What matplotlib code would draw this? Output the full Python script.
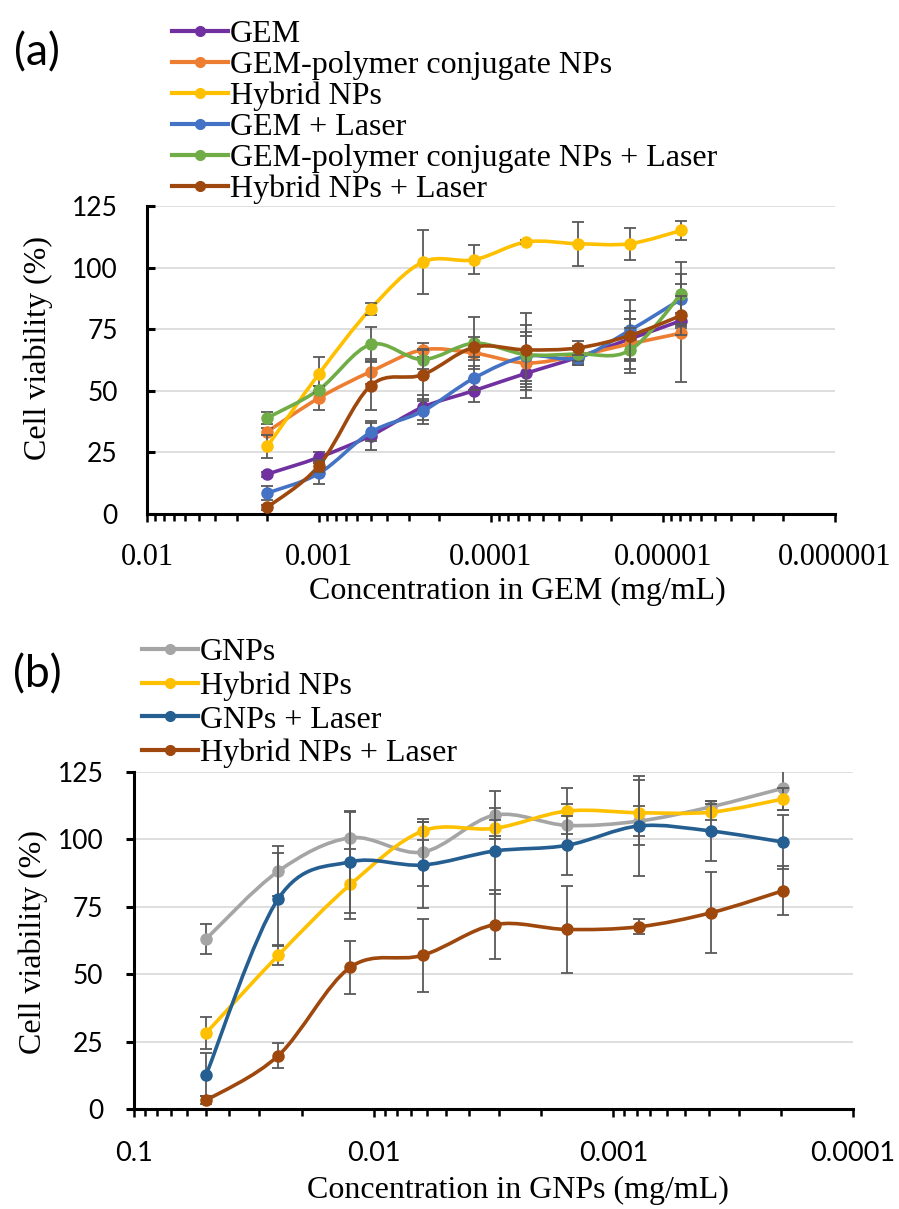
import numpy as np
import matplotlib
matplotlib.use('Agg')
import matplotlib.pyplot as plt
from matplotlib.path import Path
from matplotlib.patches import PathPatch
from matplotlib.lines import Line2D

# ---- data: panel (a), concentration in GEM (mg/mL)
conc_gem = [0.002, 0.001, 0.0005, 0.00025, 0.000125, 0.0000625, 0.00003125, 0.000015625, 0.0000078125]

gem = [16.2, 23.0, 31.8, 43.3, 50.1, 57.1, 63.6, 71.0, 78.5]
gem_err = [1.0, 2.0, 6.0, 5.0, 4.7, 10.0, 3.0, 8.0, 3.0]
gem_np = [33.4, 47.1, 57.8, 66.6, 65.3, 61.3, 64.3, 69.0, 73.4]
gem_np_err = [1.5, 4.9, 5.0, 3.0, 3.0, 11.0, 3.0, 10.0, 20.0]
hybrid = [27.4, 56.9, 83.3, 102.2, 103.2, 110.4, 109.7, 109.7, 115.1]
hybrid_err = [4.7, 6.8, 2.5, 13.0, 6.0, 1.0, 9.0, 6.5, 4.0]
gem_laser = [8.5, 16.5, 33.2, 41.7, 55.2, 64.0, 63.4, 74.5, 87.3]
gem_laser_err = [3.0, 4.3, 3.6, 5.0, 5.0, 10.0, 3.0, 12.5, 10.0]
gem_np_laser = [39.0, 50.5, 68.8, 62.7, 69.3, 64.7, 65.0, 66.4, 89.4]
gem_np_laser_err = [2.3, 1.5, 7.0, 4.0, 10.5, 12.0, 3.0, 9.0, 13.0]
hybrid_laser = [2.7, 19.6, 52.1, 56.5, 67.7, 66.6, 67.4, 72.4, 80.6]
hybrid_laser_err = [1.0, 2.5, 10.0, 10.5, 4.0, 15.0, 3.0, 10.0, 8.0]

# ---- data: panel (b), concentration in GNPs (mg/mL)
conc_gnp = [0.05, 0.025, 0.0125, 0.00625, 0.003125, 0.0015625, 0.00078125, 0.000390625, 0.0001953125]

gnps = [63.1, 88.2, 100.6, 95.3, 109.0, 105.2, 106.8, 112.1, 119.0]
gnps_err = [5.6, 9.3, 9.5, 12.4, 8.8, 8.0, 5.5, 2.0, 8.0]
hybrid_b = [28.2, 57.0, 83.3, 103.1, 104.1, 110.5, 109.9, 110.1, 115.0]
hybrid_b_err = [5.8, 3.5, 13.0, 3.5, 3.0, 8.4, 12.0, 3.0, 4.0]
gnps_laser = [12.7, 78.0, 91.7, 90.5, 95.7, 97.8, 105.0, 103.1, 99.0]
gnps_laser_err = [8.0, 17.0, 19.0, 16.0, 16.0, 11.0, 18.5, 11.0, 10.0]
hybrid_laser_b = [3.2, 19.8, 52.6, 57.0, 68.4, 66.6, 67.6, 72.8, 81.0]
hybrid_laser_b_err = [1.5, 4.5, 9.8, 13.6, 12.7, 16.0, 2.7, 15.0, 9.0]

series_a = [
    ('GEM', gem, gem_err, '#7030A0'),
    ('GEM-polymer conjugate NPs', gem_np, gem_np_err, '#ED7D31'),
    ('Hybrid NPs', hybrid, hybrid_err, '#FFC000'),
    ('GEM + Laser', gem_laser, gem_laser_err, '#4472C4'),
    ('GEM-polymer conjugate NPs + Laser', gem_np_laser, gem_np_laser_err, '#70AD47'),
    ('Hybrid NPs + Laser', hybrid_laser, hybrid_laser_err, '#9E480E'),
]
series_b = [
    ('GNPs', gnps, gnps_err, '#A5A5A5'),
    ('Hybrid NPs', hybrid_b, hybrid_b_err, '#FFC000'),
    ('GNPs + Laser', gnps_laser, gnps_laser_err, '#255E91'),
    ('Hybrid NPs + Laser', hybrid_laser_b, hybrid_laser_b_err, '#9E480E'),
]

SERIF = 'Liberation Serif'
SANS = 'Lato'
TXT = 23


def smooth_path(xs, ys):
    # excel-like smoothed line: catmull-rom as cubic bezier in (log x, y)
    u = np.log10(np.array(xs, dtype=float))
    v = np.array(ys, dtype=float)
    n = len(u)
    verts = [(u[0], v[0])]
    codes = [Path.MOVETO]
    for i in range(n - 1):
        a = max(i - 1, 0)
        d = min(i + 2, n - 1)
        c1 = (u[i] + (u[i + 1] - u[a]) / 6, v[i] + (v[i + 1] - v[a]) / 6)
        c2 = (u[i + 1] - (u[d] - u[i]) / 6, v[i + 1] - (v[d] - v[i]) / 6)
        verts += [c1, c2, (u[i + 1], v[i + 1])]
        codes += [Path.CURVE4] * 3
    verts = np.array(verts)
    verts[:, 0] = 10 ** verts[:, 0]
    return Path(verts, codes)


def draw_panel(ax, xs, series, xlim, xticklabels, xfont, xsize, ydir):
    ax.set_xscale('log')
    for k, (name, vals, errs, col) in enumerate(series):
        z = 3 + k
        ax.add_patch(PathPatch(smooth_path(xs, vals), fill=False, edgecolor=col,
                               lw=2.6, zorder=z, capstyle='round', joinstyle='round'))
        ax.errorbar(xs, vals, yerr=errs, fmt='o', color=col, ms=8, mec=col,
                    ecolor='#595959', elinewidth=1.3, capsize=4, capthick=1.3, zorder=z)
    ax.set_xlim(*xlim)
    ax.set_ylim(0, 125)
    ax.set_yticks([0, 25, 50, 75, 100, 125])
    ticks = [xlim[0] / 10 ** i for i in range(len(xticklabels))]
    ax.set_xticks(ticks)
    ax.set_xticklabels(xticklabels, fontfamily=xfont, fontsize=xsize)
    for lab in ax.get_yticklabels():
        lab.set_fontfamily(SANS)
        lab.set_fontsize(19)
    ax.yaxis.grid(True, color='#D9D9D9', lw=1.2)
    ax.set_axisbelow(True)
    for s in ['top', 'right']:
        ax.spines[s].set_visible(False)
    for s in ['left', 'bottom']:
        ax.spines[s].set_linewidth(2.2)
    ax.tick_params(axis='x', which='major', direction='out', length=6, width=1.8)
    ax.tick_params(axis='x', which='minor', direction='out', length=5, width=1.8)
    ax.tick_params(axis='y', which='major', direction=ydir, length=6, width=2.2)
    handles = [Line2D([], [], color=c, lw=3, marker='o', ms=7, label=n) for n, _, _, c in series]
    return handles


fig = plt.figure(figsize=(8.99, 12.09), dpi=100)

# panel (a)
ax1 = fig.add_axes([147 / 899, 1 - 514 / 1209, 688 / 899, 308 / 1209])
h1 = draw_panel(ax1, conc_gem, series_a, (0.01, 0.000001),
                ['0.01', '0.001', '0.0001', '0.00001', '0.000001'], SERIF, 22, 'in')
ax1.tick_params(axis='x', which='major', pad=15)
ax1.tick_params(axis='y', pad=21)
ax1.set_xlabel('Concentration in GEM (mg/mL)', fontfamily=SERIF, fontsize=TXT)
ax1.set_ylabel('Cell viability (%)', fontfamily=SERIF, fontsize=TXT)
ax1.xaxis.set_label_coords(0.539, -0.205)
ax1.yaxis.set_label_coords(-0.136, 0.54)
fig.legend(handles=h1, loc='upper left', bbox_to_anchor=(172 / 899, 1 - 20 / 1209),
           frameon=False, prop={'family': SERIF, 'size': TXT}, borderpad=0,
           borderaxespad=0, labelspacing=0.05, handlelength=1.75, handletextpad=0.06)
fig.text(37 / 899, 1 - 53 / 1209, '(a)', fontfamily=SANS, fontsize=32, ha='center', va='center')

# panel (b)
ax2 = fig.add_axes([134 / 899, 1 - 1109 / 1209, 719 / 899, 337 / 1209])
h2 = draw_panel(ax2, conc_gnp, series_b, (0.1, 0.0001),
                ['0.1', '0.01', '0.001', '0.0001'], SANS, 19.5, 'out')
ax2.tick_params(axis='x', which='major', pad=17)
ax2.tick_params(axis='y', pad=16)
ax2.set_xlabel('Concentration in GNPs (mg/mL)', fontfamily=SERIF, fontsize=TXT)
ax2.set_ylabel('Cell viability (%)', fontfamily=SERIF, fontsize=TXT)
ax2.xaxis.set_label_coords(0.534, -0.198)
ax2.yaxis.set_label_coords(-0.12, 0.496)
fig.legend(handles=h2, loc='upper left', bbox_to_anchor=(142 / 899, 1 - 638 / 1209),
           frameon=False, prop={'family': SERIF, 'size': TXT}, borderpad=0,
           borderaxespad=0, labelspacing=0.13, handlelength=1.75, handletextpad=0.06)
fig.text(37 / 899, 1 - 675 / 1209, '(b)', fontfamily=SANS, fontsize=32, ha='center', va='center')

fig.savefig('out.png', dpi=100)
